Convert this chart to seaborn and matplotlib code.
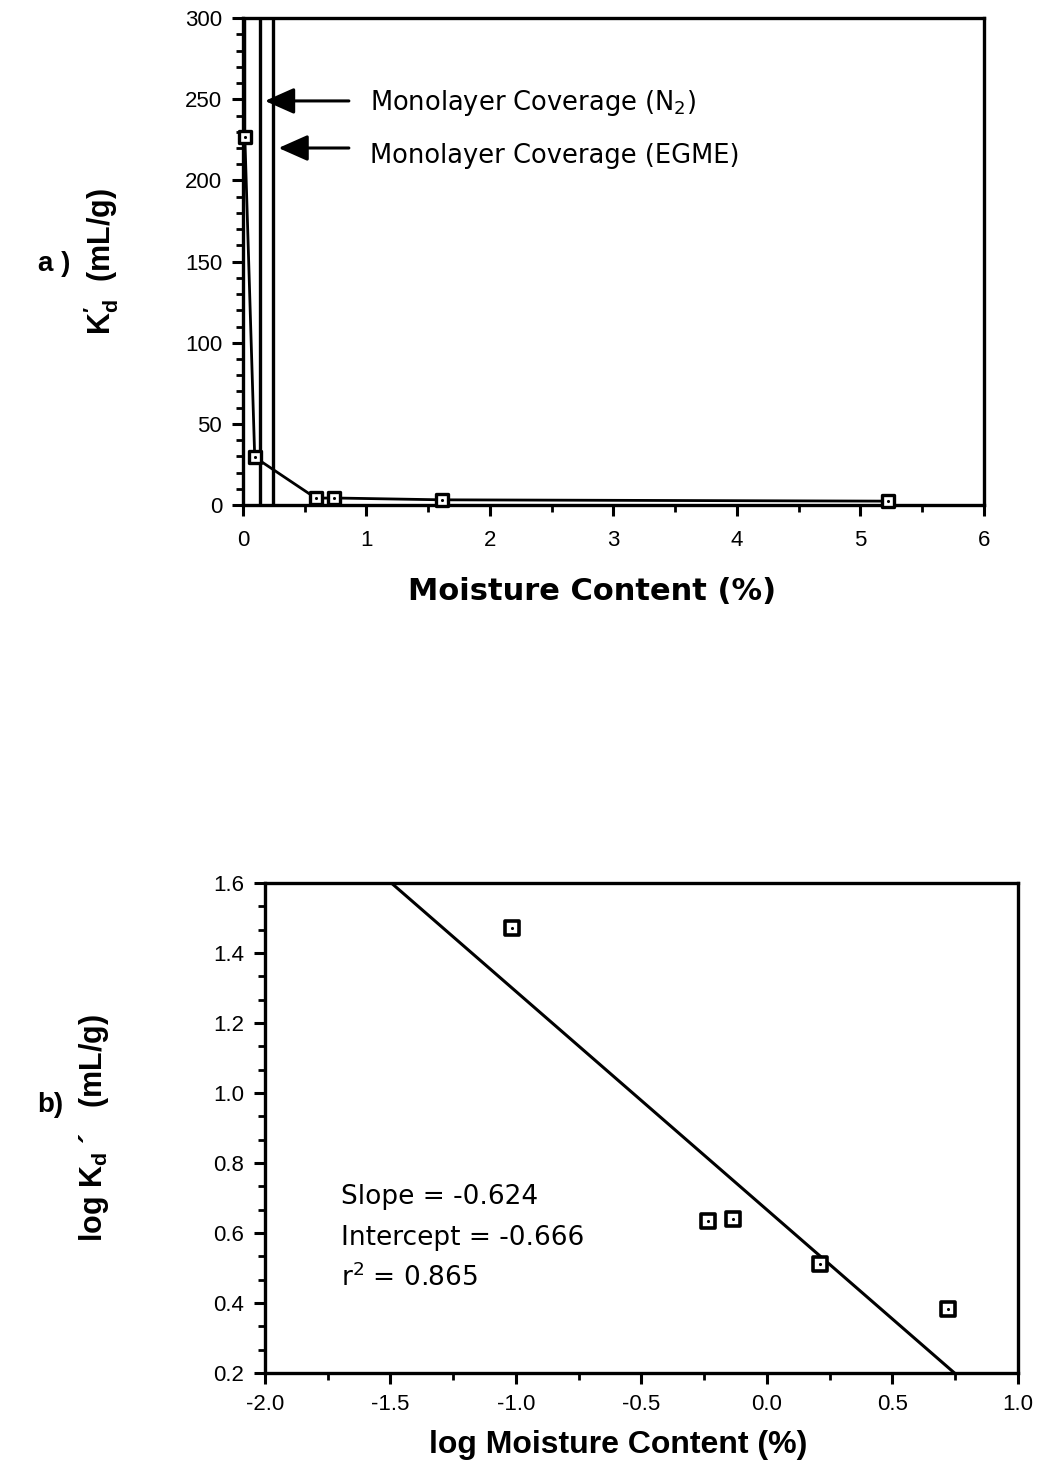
import numpy as np
import pandas as pd
import matplotlib
matplotlib.use("Agg")
import matplotlib.pyplot as plt
from matplotlib.ticker import MultipleLocator, AutoMinorLocator, FormatStrFormatter
import seaborn as sns

# ---- (a) distribution coefficient vs moisture content ----
moisture_pct = [0.015, 0.015, 0.095, 0.59, 0.74, 1.61, 5.22]
kd_ml_g = [600.0, 227.0, 29.5, 4.27, 4.37, 3.24, 2.43]
monolayer_x = [0.135, 0.245]          # N2, EGME monolayer coverage
monolayer_labels = ["Monolayer Coverage (N$_2$)", "Monolayer Coverage (EGME)"]
monolayer_arrow_y = [249.0, 220.0]
monolayer_text_y = [248.0, 215.0]

# ---- (b) log-log regression ----
log_moisture = [-1.016, -0.235, -0.136, 0.211, 0.721]
log_kd = [1.471, 0.634, 0.640, 0.511, 0.383]
fit_slope = -0.624
fit_intercept = 0.666
fit_r2 = 0.865

sns.set_theme(style="ticks")
plt.rcParams["font.family"] = ["Liberation Sans", "DejaVu Sans"]
plt.rcParams["text.color"] = "black"
plt.rcParams["axes.labelcolor"] = "black"
plt.rcParams["xtick.color"] = "black"
plt.rcParams["ytick.color"] = "black"
plt.rcParams["mathtext.fontset"] = "custom"
plt.rcParams["mathtext.rm"] = "DejaVu Sans"
plt.rcParams["mathtext.it"] = "DejaVu Sans"
plt.rcParams["mathtext.bf"] = "Liberation Sans:bold"

fig = plt.figure(figsize=(10.46, 14.64), dpi=100)
ax1 = fig.add_axes([0.2323, 0.655, 0.7084, 0.3326])
ax2 = fig.add_axes([0.2533, 0.0622, 0.7199, 0.3347])

lw_spine = 2.4
for ax in (ax1, ax2):
    for s in ax.spines.values():
        s.set_linewidth(lw_spine)
        s.set_color("black")
    ax.tick_params(axis="both", which="major", direction="out", length=8, width=2.2,
                   labelsize=16, colors="black", pad=7)
    ax.tick_params(axis="both", which="minor", direction="out", length=5, width=2.0)
    ax.tick_params(top=False, right=False, which="both")
    ax.set_facecolor("white")

# ---- panel a ----
df_a = pd.DataFrame({"x": moisture_pct, "y": kd_ml_g})
df_a_vis = df_a[df_a["y"] <= 300]
sns.lineplot(data=df_a, x="x", y="y", ax=ax1, color="black", lw=2.0, sort=False,
             estimator=None)
sq = sns.scatterplot(data=df_a_vis, x="x", y="y", ax=ax1, marker="s", s=85,
                     facecolor="white", edgecolor="black", linewidth=2.4, zorder=5)
dots = sns.scatterplot(data=df_a_vis, x="x", y="y", ax=ax1, marker="o", s=5,
                       color="black", linewidth=0, zorder=6)
for coll in ax1.collections:
    coll.set_clip_on(False)
for xv in monolayer_x:
    ax1.axvline(xv, color="black", lw=2.4)
for xv, ya, yt, lab in zip(monolayer_x, monolayer_arrow_y, monolayer_text_y, monolayer_labels):
    ax1.annotate("", xy=(xv + 0.02, ya), xytext=(0.88, ya),
                 arrowprops=dict(arrowstyle="-|>,head_length=0.9,head_width=0.4",
                                 color="black", lw=2.2, mutation_scale=20))
    ax1.text(1.03, yt, lab, fontsize=18.5, family="DejaVu Sans", va="center", ha="left")

ax1.set_xlim(0, 6)
ax1.set_ylim(0, 300)
ax1.xaxis.set_major_locator(MultipleLocator(1))
ax1.xaxis.set_minor_locator(MultipleLocator(0.5))
ax1.yaxis.set_major_locator(MultipleLocator(50))
ax1.yaxis.set_minor_locator(MultipleLocator(10))
ax1.tick_params(axis="x", pad=10)
ax1.set_xlabel("Moisture Content (%)", fontsize=22, fontweight="bold", family="DejaVu Sans")
ax1.xaxis.set_label_coords(0.471, -0.148)
ax1.set_ylabel(r"$\mathbf{K_d^{\prime}}$  (mL/g)", fontsize=22, fontweight="bold")
ax1.yaxis.set_label_coords(-0.165, 0.5)

# ---- panel b ----
df_b = pd.DataFrame({"x": log_moisture, "y": log_kd})
x_fit = np.array([-2.0, 1.0])
df_fit = pd.DataFrame({"x": x_fit, "y": fit_intercept + fit_slope * x_fit})
sns.lineplot(data=df_fit, x="x", y="y", ax=ax2, color="black", lw=2.2)
sns.scatterplot(data=df_b, x="x", y="y", ax=ax2, marker="s", s=95, facecolor="white",
                edgecolor="black", linewidth=2.6, zorder=5)
sns.scatterplot(data=df_b, x="x", y="y", ax=ax2, marker="o", s=5, color="black",
                linewidth=0, zorder=6)

ax2.set_xlim(-2.0, 1.0)
ax2.set_ylim(0.2, 1.6)
ax2.xaxis.set_major_locator(MultipleLocator(0.5))
ax2.xaxis.set_minor_locator(MultipleLocator(0.25))
ax2.yaxis.set_major_locator(MultipleLocator(0.2))
ax2.yaxis.set_minor_locator(AutoMinorLocator(3))
ax2.xaxis.set_major_formatter(FormatStrFormatter("%.1f"))
ax2.yaxis.set_major_formatter(FormatStrFormatter("%.1f"))
ax2.set_xlabel("log Moisture Content (%)", fontsize=23, fontweight="bold")
ax2.xaxis.set_label_coords(0.469, -0.117)
ax2.set_ylabel("log K$_\\mathbf{d}$ \u00b4   (mL/g)", fontsize=22, fontweight="bold")
ax2.yaxis.set_label_coords(-0.204, 0.5)

stats = [f"Slope = {fit_slope:.3f}", "Intercept = -0.666", f"r$^2$ = {fit_r2:.3f}"]
for txt, yy in zip(stats, [0.359, 0.276, 0.194]):
    ax2.text(0.101, yy, txt, transform=ax2.transAxes, fontsize=19,
             family="DejaVu Sans", va="center", ha="left")

fig.text(0.036, 0.820, "a )", fontsize=20, fontweight="bold", va="center")
fig.text(0.036, 0.245, "b)", fontsize=20, fontweight="bold", va="center")

fig.savefig("out.png", dpi=100, facecolor="white")
